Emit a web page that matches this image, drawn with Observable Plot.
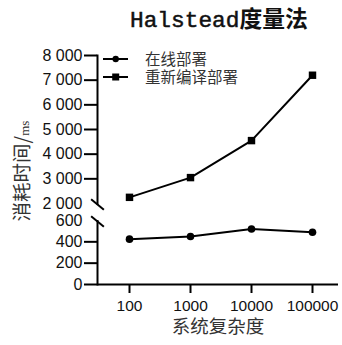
<!DOCTYPE html>
<html><head><meta charset="utf-8">
<script src="https://cdn.jsdelivr.net/npm/d3@7"></script>
<script src="https://cdn.jsdelivr.net/npm/@observablehq/plot@0.6"></script>
<style>
body{margin:0;background:#fff}
#wrap{position:relative;width:342px;height:345px;overflow:hidden;background:#fff}
#wrap svg{position:absolute;left:0;top:0}
</style></head><body>
<div id="wrap"></div>
<script>
const categories = ["100", "1000", "10000", "100000"];
const onlineValues = [425, 450, 520, 490];
const recompileValues = [2250, 3050, 4550, 7200];
const seriesNames = ["在线部署", "重新编译部署"];
const yTicksMain = [0, 200, 400, 3000, 4000, 5000, 6000, 7000, 8000];
const yTicksBreak = [600, 2000];
const titleText = "Halstead度量法";
const xLabel = "系统复杂度";
const yLabel = "消耗时间/";
const yUnit = "ms";

const online = categories.map((c, i) => ({cat: c, v: onlineValues[i]}));
const recompile = categories.map((c, i) => ({cat: c, v: recompileValues[i]}));
const gap = [{lo: yTicksBreak[0], hi: yTicksBreak[1]}];

const fmt = d3.formatLocale({decimal: ".", thousands: " ", grouping: [3], currency: ["", ""]}).format(",");
const slash = {draw(ctx, size) { const r = Math.sqrt(size / Math.PI); ctx.moveTo(-0.85 * r, -0.7 * r); ctx.lineTo(0.85 * r, 0.7 * r); }};

const W = 342, H = 345;
const chart = Plot.plot({
  width: W, height: H,
  marginLeft: 97, marginRight: 4, marginTop: 55, marginBottom: 61,
  style: {fontFamily: "'Liberation Sans', Arial, sans-serif", fontSize: "16px", color: "#111", background: "transparent"},
  x: {type: "point", domain: categories, range: [128, 312], padding: 0, label: null},
  y: {type: "linear", domain: [0, 600, 2000, 8000], range: [284, 220, 203, 55], label: null},
  marks: [
    Plot.frame({anchor: "left", strokeWidth: 2, stroke: "#000"}),
    Plot.ruleY([0], {strokeWidth: 2, stroke: "#000"}),
    Plot.rect(gap, {y1: "lo", y2: "hi", fill: "#fff", insetTop: 2, insetLeft: -6, insetRight: 200}),
    Plot.axisY({ticks: yTicksMain, tickSize: 13, tickPadding: 2, tickFormat: fmt, strokeWidth: 2, stroke: "#000", fontSize: 16, label: null}),
    Plot.axisY({ticks: yTicksBreak, tickSize: 0, tickPadding: 15, tickFormat: fmt, fontSize: 16, label: null}),
    Plot.axisX({tickSize: 9, tickPadding: 6, strokeWidth: 2, stroke: "#000", fontSize: 15.5, label: null}),
    Plot.dot(yTicksBreak.map(v => ({v})), {y: "v", frameAnchor: "left", symbol: slash, r: 7.5, stroke: "#000", strokeWidth: 2, fill: "none", dy: 1}),
    Plot.line(online, {x: "cat", y: "v", stroke: "#000", strokeWidth: 2}),
    Plot.dot(online, {x: "cat", y: "v", symbol: "circle", r: 3.8, fill: "#000", stroke: "none"}),
    Plot.line(recompile, {x: "cat", y: "v", stroke: "#000", strokeWidth: 2}),
    Plot.dot(recompile, {x: "cat", y: "v", symbol: "square", r: 4.2, fill: "#000", stroke: "none"})
  ]
});
const wrap = document.getElementById("wrap");
wrap.appendChild(chart);

// overlay: title, legend, axis titles
const ov = d3.select(wrap).append("svg").attr("width", W).attr("height", H);
const cjk = "'Noto Sans CJK SC', 'Noto Sans', sans-serif";
const t = ov.append("text").attr("x", 130).attr("y", 27).attr("font-size", 22.8).attr("fill", "#111");
t.append("tspan").attr("font-family", "'Liberation Mono', 'DejaVu Sans Mono', monospace").attr("font-weight", "normal").attr("stroke", "#111").attr("stroke-width", 0.5).text(titleText.slice(0, 8));
t.append("tspan").attr("font-family", cjk).attr("font-weight", "bold").text(titleText.slice(8));

const leg = ov.append("g");
seriesNames.forEach((name, i) => {
  const y = 59 + i * 18;
  leg.append("line").attr("x1", 103).attr("x2", 128).attr("y1", y).attr("y2", y).attr("stroke", "#000").attr("stroke-width", 2);
  if (i === 0) leg.append("circle").attr("cx", 115.7).attr("cy", y).attr("r", 3.2).attr("fill", "#000");
  else leg.append("rect").attr("x", 112.2).attr("y", y - 3.5).attr("width", 7).attr("height", 7).attr("fill", "#000");
  leg.append("text").attr("x", 145).attr("y", y).attr("dy", "0.36em").attr("font-family", cjk).attr("font-size", 15.5).attr("fill", "#333").text(name);
});

ov.append("text").attr("x", 218).attr("y", 326).attr("dy", "0.36em").attr("text-anchor", "middle")
  .attr("font-family", cjk).attr("font-size", 18.5).attr("fill", "#333").text(xLabel);
const yl = ov.append("text").attr("transform", "translate(22,171) rotate(-90)").attr("text-anchor", "middle").attr("dy", "0.36em")
  .attr("font-family", cjk).attr("font-size", 19.5).attr("fill", "#333");
yl.append("tspan").text(yLabel);
yl.append("tspan").attr("font-size", 13).attr("font-family", "'Liberation Serif', serif").text(yUnit);
</script>
</body></html>
